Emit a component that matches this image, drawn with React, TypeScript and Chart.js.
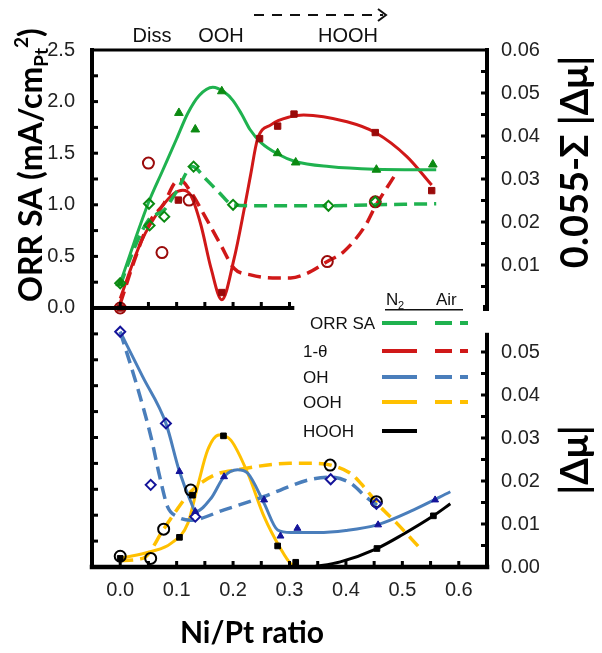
import React, { useEffect, useRef } from 'react';
import { Chart, registerables } from 'chart.js';
Chart.register(...registerables);

// ---------- tick values ----------
const xTickValues = [0, 0.1, 0.2, 0.3, 0.4, 0.5, 0.6];
const xMinorTicks = [0, 0.05, 0.1, 0.15, 0.2, 0.25, 0.3, 0.35, 0.4, 0.45, 0.5, 0.55, 0.6];
const topXMinorTicks = [0, 0.05, 0.1, 0.15, 0.2, 0.25, 0.3];
const topAxisEndX = 0.305;
const orrTickValues = [0, 0.5, 1.0, 1.5, 2.0, 2.5];
const orrMinorTicks = [0.25, 0.5, 0.75, 1.0, 1.25, 1.5, 1.75, 2.0, 2.25];
const topRightTickValues = [0.01, 0.02, 0.03, 0.04, 0.05, 0.06];
const topRightMinorTicks = [0.005, 0.01, 0.015, 0.02, 0.025, 0.03, 0.035, 0.04, 0.045, 0.05, 0.055];
const bottomRightTickValues = [0, 0.01, 0.02, 0.03, 0.04, 0.05];
const bottomRightMinorTicks = [0.005, 0.01, 0.015, 0.02, 0.025, 0.03, 0.035, 0.04, 0.045, 0.05];
const bottomRightAxisEnd = 0.054;
const bottomLeftMinorTicks = [1, 2, 3, 4, 5, 6, 7, 8, 9];

// axis ranges (the two panels share one plot area)
const orrMin = -2.51, orrMax = 2.5;
const topRightMin = -0.06023, topRightMax = 0.06;
const bottomRightMin = 0, bottomRightMax = 0.12023;

// ---------- top panel: ORR SA (left axis) ----------
const orrN2CurveX = [0, 0.025, 0.05, 0.075, 0.1, 0.12, 0.14, 0.164, 0.185, 0.2, 0.215, 0.23, 0.25, 0.28, 0.31, 0.37, 0.45, 0.56];
const orrN2CurveY = [0.24, 0.64, 1.02, 1.33, 1.64, 1.89, 2.06, 2.14, 2.09, 2.01, 1.88, 1.73, 1.6, 1.49, 1.42, 1.37, 1.345, 1.34];
const orrN2MarkX = [0, 0.104, 0.133, 0.18, 0.279, 0.311, 0.454, 0.554];
const orrN2MarkY = [0.24, 1.89, 1.73, 2.1, 1.5, 1.41, 1.34, 1.39];
const orrAirCurveX = [0, 0.025, 0.051, 0.078, 0.1, 0.128, 0.15, 0.175, 0.2, 0.25, 0.35, 0.45, 0.56];
const orrAirCurveY = [0.22, 0.58, 0.86, 0.95, 1.13, 1.37, 1.26, 1.12, 1.0, 0.99, 0.99, 1.0, 1.01];
const orrAirMarkX = [0, 0.051, 0.052, 0.078, 0.13, 0.2, 0.369, 0.452];
const orrAirMarkY = [0.24, 1.01, 0.8, 0.885, 1.37, 1.0, 0.99, 1.03];

// ---------- top panel: 1-θ (right axis, 0.055-Σ|Δμ|) ----------
const thetaN2CurveX = [0, 0.037, 0.072, 0.095, 0.111, 0.125, 0.143, 0.161, 0.18, 0.202, 0.22, 0.231, 0.243, 0.267, 0.302, 0.325, 0.402, 0.452, 0.508, 0.552];
const thetaN2CurveY = [0.0022, 0.0154, 0.0232, 0.0266, 0.0274, 0.0262, 0.0193, 0.0092, 0.0019, 0.0116, 0.0232, 0.0309, 0.0391, 0.0426, 0.0445, 0.0449, 0.0433, 0.0408, 0.0352, 0.0286];
const thetaN2MarkX = [0, 0.103, 0.18, 0.247, 0.279, 0.308, 0.452, 0.552];
const thetaN2MarkY = [0, 0.0251, 0.0036, 0.0394, 0.0423, 0.0451, 0.0408, 0.0273];
const thetaAirCurveX = [0, 0.025, 0.051, 0.078, 0.096, 0.106, 0.125, 0.149, 0.178, 0.202, 0.231, 0.27, 0.302, 0.33, 0.367, 0.396, 0.435, 0.452, 0.485];
const thetaAirCurveY = [0.001, 0.011, 0.0198, 0.0244, 0.029, 0.0298, 0.027, 0.0216, 0.0147, 0.0092, 0.0077, 0.007, 0.007, 0.008, 0.0108, 0.0131, 0.0193, 0.0236, 0.0305];
const thetaAirMarkX = [0, 0.05, 0.074, 0.122, 0.367, 0.452];
const thetaAirMarkY = [0, 0.0337, 0.0129, 0.0251, 0.0108, 0.0247];

// ---------- bottom panel: |Δμ| (right axis) ----------
const ohN2CurveX = [0, 0.04, 0.081, 0.105, 0.125, 0.134, 0.161, 0.184, 0.208, 0.226, 0.255, 0.279, 0.302, 0.35, 0.4, 0.455, 0.52, 0.585];
const ohN2CurveY = [0.0547, 0.0442, 0.0334, 0.0222, 0.0152, 0.0129, 0.016, 0.021, 0.0226, 0.0218, 0.0148, 0.0086, 0.008, 0.008, 0.0085, 0.0098, 0.0133, 0.0175];
const ohN2MarkX = [0.105, 0.133, 0.184, 0.255, 0.284, 0.314, 0.457, 0.558];
const ohN2MarkY = [0.0222, 0.0129, 0.021, 0.0156, 0.0072, 0.009, 0.0098, 0.0156];
const ohAirCurveX = [0, 0.03, 0.055, 0.07, 0.084, 0.1, 0.125, 0.184, 0.255, 0.284, 0.332, 0.373, 0.408, 0.438, 0.455];
const ohAirCurveY = [0.0547, 0.042, 0.03, 0.021, 0.014, 0.0118, 0.0109, 0.0133, 0.0164, 0.0179, 0.0202, 0.0209, 0.0195, 0.016, 0.0144];
const ohAirMarkX = [0, 0.054, 0.081, 0.133, 0.373, 0.454];
const ohAirMarkY = [0.0547, 0.0191, 0.0334, 0.0117, 0.0204, 0.0147];

const oohN2CurveX = [0, 0.055, 0.09, 0.12, 0.137, 0.155, 0.175, 0.196, 0.226, 0.255, 0.284, 0.302, 0.32, 0.34];
const oohN2CurveY = [0.002, 0.0036, 0.0055, 0.0102, 0.0187, 0.0272, 0.0307, 0.0295, 0.0218, 0.0117, 0.0043, 0.0008, 0, 0];
const oohN2MarkX = [0, 0.105, 0.128, 0.183, 0.279, 0.311];
const oohN2MarkY = [0.002, 0.0069, 0.0167, 0.0305, 0.0049, 0.0011];
const oohAirCurveX = [0, 0.04, 0.077, 0.096, 0.125, 0.167, 0.208, 0.3, 0.343, 0.373, 0.408, 0.426, 0.461, 0.49, 0.529];
const oohAirCurveY = [0.0015, 0.002, 0.0088, 0.0125, 0.0175, 0.0214, 0.0226, 0.0241, 0.0241, 0.0237, 0.0218, 0.0195, 0.014, 0.0102, 0.0047];
const oohAirMarkX = [0, 0.054, 0.077, 0.125, 0.372, 0.454];
const oohAirMarkY = [0.0025, 0.002, 0.0088, 0.0179, 0.0237, 0.0152];

const hoohN2CurveX = [0.34, 0.39, 0.455, 0.5, 0.555, 0.585];
const hoohN2CurveY = [0, 0.0012, 0.0043, 0.0075, 0.0119, 0.0147];
const hoohN2MarkX = [0.455, 0.555];
const hoohN2MarkY = [0.0043, 0.0119];

// ---------- legend / annotations ----------
const legendLabels = ['ORR SA', '1-θ', 'OH', 'OOH', 'HOOH'];
const topNotes = ['Diss', 'OOH', 'HOOH'];

const GREEN = '#1fb24f';
const GREEN_M = '#0b8a12';
const RED = '#d01818';
const RED_M = '#9a0a0a';
const BLUE = '#4a7ebb';
const BLUE_M = '#14149a';
const YELLOW = '#ffc000';
const BLACK = '#000000';
const legendColors = [GREEN, RED, BLUE, YELLOW, BLACK];
const legendHasAir = [true, true, true, true, false];

const pts = (xs: number[], ys: number[]) => xs.map((x, i) => ({ x, y: ys[i] }));

const curve = (xs: number[], ys: number[], axis: string, color: string, dashed: boolean) => ({
  type: 'line' as const,
  data: pts(xs, ys),
  yAxisID: axis,
  borderColor: color,
  backgroundColor: color,
  borderWidth: dashed ? 3.5 : 3,
  borderDash: dashed ? [13, 7] : [],
  pointRadius: 0,
  fill: false,
  cubicInterpolationMode: 'monotone' as const,
  order: 2,
});

const marks = (xs: number[], ys: number[], axis: string, style: string, color: string, open: boolean, r: number) => ({
  type: 'line' as const,
  data: pts(xs, ys),
  yAxisID: axis,
  showLine: false,
  pointStyle: style,
  pointRadius: r,
  pointBorderWidth: open ? 2 : 1,
  pointBorderColor: color,
  pointBackgroundColor: open ? 'rgba(255,255,255,0)' : color,
  borderColor: color,
  backgroundColor: color,
  order: 1,
});

const tickFont = { family: "'Liberation Sans', Arial, sans-serif", size: 20 };
const tickColor = '#222';

const decor = {
  id: 'decor',
  afterDraw(chart: any) {
    const ctx = chart.ctx as CanvasRenderingContext2D;
    const { left, right, top, bottom } = chart.chartArea;
    const sx = chart.scales.x, yL1 = chart.scales.yL1, yL2 = chart.scales.yL2, yR1 = chart.scales.yR1, yR2 = chart.scales.yR2;
    const mid = yL1.getPixelForValue(0);
    ctx.save();
    ctx.fillStyle = '#000';
    const hline = (x1: number, x2: number, y: number, w: number) => ctx.fillRect(x1 - w / 2, y - w / 2, x2 - x1 + w, w);
    const vline = (x: number, y1: number, y2: number, w: number) => ctx.fillRect(x - w / 2, y1 - w / 2, w, y2 - y1 + w);
    // axes lines
    vline(left, top, bottom, 4);
    hline(left, right, top, 3);
    vline(right, top, mid, 4);
    vline(right, yR2.getPixelForValue(bottomRightAxisEnd), bottom, 4);
    hline(left, right, bottom, 4.5);
    hline(left, sx.getPixelForValue(topAxisEndX), mid, 4);
    // inward ticks
    const tl = 6, tw = 3;
    orrMinorTicks.forEach(v => ctx.fillRect(left, yL1.getPixelForValue(v) - tw / 2, tl, tw));
    bottomLeftMinorTicks.forEach(v => ctx.fillRect(left, yL2.getPixelForValue(v) - tw / 2, tl, tw));
    topRightMinorTicks.forEach(v => ctx.fillRect(right - tl, yR1.getPixelForValue(v) - tw / 2, tl, tw));
    bottomRightMinorTicks.forEach(v => ctx.fillRect(right - tl, yR2.getPixelForValue(v) - tw / 2, tl, tw));
    xMinorTicks.forEach(v => ctx.fillRect(sx.getPixelForValue(v) - tw / 2, bottom - tl, tw, tl));
    topXMinorTicks.forEach(v => ctx.fillRect(sx.getPixelForValue(v) - tw / 2, mid - tl, tw, tl));
    ctx.fillRect(right - 4, mid - 3, 6, 6);

    // legend
    ctx.fillStyle = '#111';
    ctx.textBaseline = 'alphabetic';
    ctx.textAlign = 'left';
    ctx.font = "17px 'Liberation Sans', Arial, sans-serif";
    ctx.fillText('N', 386, 305);
    ctx.font = "11px 'Liberation Sans', Arial, sans-serif";
    ctx.fillText('2', 398, 309);
    ctx.font = "17px 'Liberation Sans', Arial, sans-serif";
    ctx.fillText('Air', 436, 305);
    ctx.fillRect(385, 309, 78, 1.5);
    const rowY = [323, 351, 377, 402, 431];
    const rowX = [310, 303, 303, 303, 303];
    legendLabels.forEach((lab, i) => {
      ctx.fillStyle = '#111';
      ctx.fillText(lab, rowX[i], rowY[i] + 6);
      ctx.strokeStyle = legendColors[i];
      ctx.lineWidth = 4;
      ctx.setLineDash([]);
      ctx.beginPath(); ctx.moveTo(382, rowY[i]); ctx.lineTo(417, rowY[i]); ctx.stroke();
      if (legendHasAir[i]) {
        ctx.setLineDash([17, 8]);
        ctx.beginPath(); ctx.moveTo(435, rowY[i]); ctx.lineTo(468, rowY[i]); ctx.stroke();
        ctx.setLineDash([]);
      }
    });

    // top annotations
    ctx.fillStyle = '#111';
    ctx.font = "20px 'Liberation Sans', Arial, sans-serif";
    ctx.textAlign = 'center';
    const noteX = [152, 221, 348];
    topNotes.forEach((t, i) => ctx.fillText(t, noteX[i], 42));
    ctx.strokeStyle = '#111';
    ctx.lineWidth = 2;
    ctx.setLineDash([10, 8]);
    ctx.beginPath(); ctx.moveTo(254, 15); ctx.lineTo(383, 15); ctx.stroke();
    ctx.setLineDash([]);
    ctx.beginPath(); ctx.moveTo(378, 9); ctx.lineTo(386, 15); ctx.lineTo(378, 21); ctx.stroke();

    // axis titles
    const bold = (s: number) => `bold ${s}px Lato, 'Noto Sans', sans-serif`;
    const runs = (x: number, y: number, parts: [string, number, number][]) => {
      let w = 0;
      parts.forEach(([t, s]) => { ctx.font = bold(s); w += ctx.measureText(t).width; });
      let cx = x - w / 2;
      ctx.textAlign = 'left';
      parts.forEach(([t, s, dy]) => { ctx.font = bold(s); ctx.fillText(t, cx, y + dy); cx += ctx.measureText(t).width; });
    };
    ctx.fillStyle = '#000';
    ctx.save();
    ctx.translate(42, 165); ctx.rotate(-Math.PI / 2);
    runs(0, 0, [['ORR SA (mA/cm', 32, 0], ['Pt', 19, 6], ['2', 19, -14], [')', 32, 0]]);
    ctx.restore();
    ctx.save();
    ctx.translate(588, 162); ctx.rotate(-Math.PI / 2);
    runs(0, 0, [['0.055-Σ |Δμ|', 38, 0]]);
    ctx.restore();
    ctx.save();
    ctx.translate(588, 460); ctx.rotate(-Math.PI / 2);
    runs(0, 0, [['|Δμ|', 38, 0]]);
    ctx.restore();
    runs(252, 643, [['Ni/Pt ratio', 30, 0]]);
    ctx.restore();
  },
};

export default function App() {
  const ref = useRef<HTMLCanvasElement>(null);
  useEffect(() => {
    const datasets: any[] = [
      marks(orrN2MarkX, orrN2MarkY, 'yL1', 'triangle', GREEN_M, false, 5),
      marks(orrAirMarkX, orrAirMarkY, 'yL1', 'rectRot', GREEN_M, true, 5),
      marks(thetaN2MarkX, thetaN2MarkY, 'yR1', 'rect', RED_M, false, 4.5),
      marks(thetaAirMarkX, thetaAirMarkY, 'yR1', 'circle', RED_M, true, 5.5),
      marks(ohN2MarkX, ohN2MarkY, 'yR2', 'triangle', BLUE_M, false, 4),
      marks(ohAirMarkX, ohAirMarkY, 'yR2', 'rectRot', BLUE_M, true, 5),
      marks(oohN2MarkX, oohN2MarkY, 'yR2', 'rect', BLACK, false, 4),
      marks(oohAirMarkX, oohAirMarkY, 'yR2', 'circle', BLACK, true, 5.5),
      marks(hoohN2MarkX, hoohN2MarkY, 'yR2', 'rect', BLACK, false, 4),
      curve(orrN2CurveX, orrN2CurveY, 'yL1', GREEN, false),
      curve(orrAirCurveX, orrAirCurveY, 'yL1', GREEN, true),
      curve(thetaN2CurveX, thetaN2CurveY, 'yR1', RED, false),
      curve(thetaAirCurveX, thetaAirCurveY, 'yR1', RED, true),
      curve(ohN2CurveX, ohN2CurveY, 'yR2', BLUE, false),
      curve(ohAirCurveX, ohAirCurveY, 'yR2', BLUE, true),
      curve(oohN2CurveX, oohN2CurveY, 'yR2', YELLOW, false),
      curve(oohAirCurveX, oohAirCurveY, 'yR2', YELLOW, true),
      curve(hoohN2CurveX, hoohN2CurveY, 'yR2', BLACK, false),
    ];
    // the top-panel right axis value v sits at v + panelOffset on the bottom-panel right axis
    const panelOffset = -topRightMin;
    const rightTicks = [
      ...bottomRightTickValues.map(v => ({ value: v, label: v.toFixed(2) })),
      ...topRightTickValues.map(v => ({ value: v + panelOffset, label: v.toFixed(2) })),
    ];
    const setTicks = (vals: number[]) => (s: any) => { s.ticks = vals.map(v => ({ value: v })); };
    const common = { grid: { display: false }, border: { display: false } };
    const chart = new Chart(ref.current as HTMLCanvasElement, {
      type: 'line',
      data: { datasets },
      plugins: [decor],
      options: {
        animation: false,
        responsive: false,
        maintainAspectRatio: false,
        layout: { padding: { left: 0, right: 0, top: 50, bottom: 0 } },
        plugins: { legend: { display: false }, tooltip: { enabled: false } },
        scales: {
          x: {
            type: 'linear', position: 'bottom', min: -0.05, max: 0.65, ...common,
            afterBuildTicks: setTicks(xTickValues),
            afterFit: (s: any) => { s.height = 86; },
            ticks: { autoSkip: false, maxRotation: 0, padding: 3, font: tickFont, color: tickColor, callback: (v: any) => Number(v).toFixed(1) },
          },
          yL1: {
            type: 'linear', position: 'left', min: orrMin, max: orrMax, ...common,
            afterBuildTicks: setTicks(orrTickValues),
            afterFit: (s: any) => { s.width = 92; },
            ticks: { autoSkip: false, padding: 9, font: tickFont, color: tickColor, callback: (v: any) => Number(v).toFixed(1) },
          },
          yL2: { type: 'linear', position: 'left', min: 0, max: 19.96, display: false },
          yR2: {
            type: 'linear', position: 'right', min: bottomRightMin, max: bottomRightMax, ...common,
            afterBuildTicks: (s: any) => { s.ticks = rightTicks.map(t => ({ value: t.value })); },
            afterFit: (s: any) => { s.width = 115; },
            ticks: {
              autoSkip: false, padding: 6, font: tickFont, color: tickColor,
              callback: (_v: any, i: number) => rightTicks[i].label,
            },
          },
          yR1: { type: 'linear', position: 'right', min: topRightMin, max: topRightMax, display: false },
        },
      } as any,
    });
    return () => chart.destroy();
  }, []);
  return (
    <div style={{ position: 'fixed', left: 0, top: 0, width: 602, height: 653, background: '#fff' }}>
      <canvas ref={ref} width={602} height={653} style={{ display: 'block', width: 602, height: 653 }} />
    </div>
  );
}
